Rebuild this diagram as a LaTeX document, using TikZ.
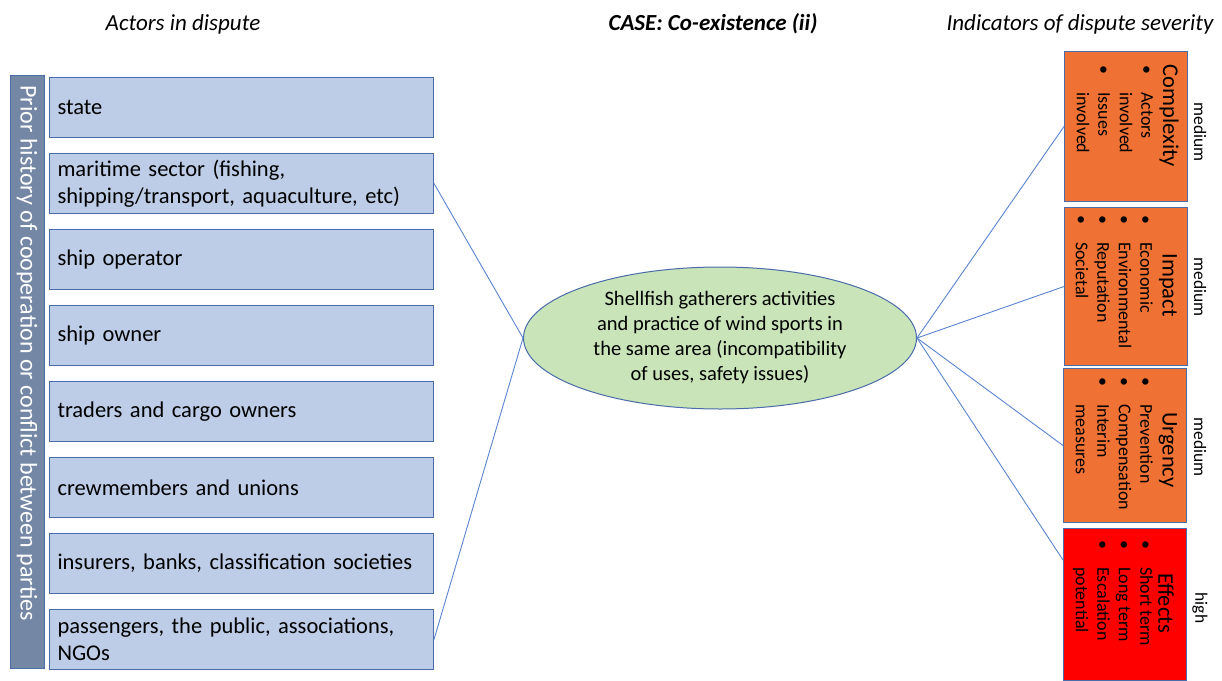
\documentclass[tikz,border=0pt]{standalone}
\usepackage{fontspec}
\setmainfont{Carlito}
\usetikzlibrary{shapes.geometric}
\definecolor{actorfill}{RGB}{189,205,232}
\definecolor{boxline}{RGB}{74,108,170}
\definecolor{barfill}{RGB}{116,136,166}
\definecolor{casefill}{RGB}{200,228,184}
\definecolor{sevorange}{RGB}{240,113,52}
\definecolor{sevred}{RGB}{255,0,0}
\definecolor{linkblue}{RGB}{91,132,208}
\newcommand{\itm}{\makebox[27pt][l]{\textbullet}}
\newcommand{\cont}{\hspace*{27pt}}
\tikzset{
  heading/.style={font=\fontsize{23}{26}\selectfont\itshape},
  actor/.style={draw=boxline, fill=actorfill, line width=1pt, anchor=north west,
    minimum height=60pt, text width=368pt, inner xsep=8pt, align=left,
    font=\fontsize{22.5}{27}\selectfont},
  indicator/.style={draw=boxline, line width=1pt, anchor=north west,
    minimum width=123pt, inner sep=0pt},
  headtext/.style={rotate=-90, font=\fontsize{22.5}{24}\selectfont},
  bullets/.style={rotate=-90, anchor=north west, inner sep=0pt, align=left,
    font=\fontsize{18}{21.5}\selectfont},
  level/.style={rotate=-90, font=\fontsize{17.5}{20}\selectfont},
  link/.style={draw=linkblue, line width=0.9pt}
}
\begin{document}
\begin{tikzpicture}[x=1pt,y=-1pt]
  \useasboundingbox (0,0) rectangle (1222,680);
  % headings
  \node[heading] (hactors) at (183,24) {Actors in dispute};
  \node[heading, font=\fontsize{23}{26}\selectfont\bfseries\itshape] (hcase) at (713,24) {CASE: Co-existence (ii)};
  \node[heading] (hind) at (1080,24) {Indicators of dispute severity};
  % prior history bar
  \node[draw=boxline, fill=barfill, line width=1pt, anchor=north west,
    minimum width=34pt, minimum height=593pt, inner sep=0pt] (history) at (10,75) {};
  \node[rotate=-90, anchor=west, text=white, font=\fontsize{24}{26}\selectfont]
    (historytext) at (27,82) {Prior history of cooperation or conflict between parties};
  % actors
  \node[actor] (state) at (49,77) {state};
  \node[actor] (maritime) at (49,153) {maritime sector (fishing,\\shipping/transport, aquaculture, etc)};
  \node[actor] (operator) at (49,229) {ship operator};
  \node[actor] (owner) at (49,305) {ship owner};
  \node[actor] (traders) at (49,381) {traders and cargo owners};
  \node[actor] (crew) at (49,457) {crewmembers and unions};
  \node[actor] (insurers) at (49,533) {insurers, banks, classification societies};
  \node[actor] (passengers) at (49,609) {passengers, the public, associations,\\NGOs};
  % case
  \node[ellipse, draw=boxline, fill=casefill, line width=1pt, minimum width=393pt,
    minimum height=142pt, inner sep=0pt, align=center, font=\fontsize{20.5}{25}\selectfont]
    (case) at (720,338) {Shellfish gatherers activities\\and practice of wind sports in\\the same area (incompatibility\\of uses, safety issues)};
  % indicators
  \node[indicator, fill=sevorange, minimum height=150pt] (complexity) at (1064,51) {};
  \node[indicator, fill=sevorange, minimum height=158pt] (impact) at (1064,207) {};
  \node[indicator, fill=sevorange, minimum height=154pt] (urgency) at (1063,368) {};
  \node[indicator, fill=sevred, minimum height=152pt] (effects) at (1063,528) {};
  \coordinate (effectsin) at (1063,560);
  \node[headtext] (complexityhead) at (1169,116) {Complexity};
  \node[headtext] (impacthead) at (1168,285) {Impact};
  \node[headtext] (urgencyhead) at (1168,450) {Urgency};
  \node[headtext] (effectshead) at (1166,603) {Effects};
  \node[bullets] (complexitylist) at (1153,65) {\itm Actors\\\cont involved\\\itm Issues\\\cont involved};
  \node[bullets] (impactlist) at (1153,215) {\itm Economic\\\itm Environmental\\\itm Reputation\\\itm Societal};
  \node[bullets] (urgencylist) at (1153,377) {\itm Prevention\\\itm Compensation\\\itm Interim\\\cont measures};
  \node[bullets] (effectslist) at (1153,540) {\itm Short term\\\itm Long term\\\itm Escalation\\\cont potential};
  \node[level] (complexitylevel) at (1200,132) {medium};
  \node[level] (impactlevel) at (1200,287) {medium};
  \node[level] (urgencylevel) at (1200,447) {medium};
  \node[level] (effectslevel) at (1200,608) {high};
  % links
  \begin{scope}[link]
    \draw (maritime.east) -- (case.west);
    \draw (passengers.east) -- (case.west);
    \draw (case.east) -- (complexity.west);
    \draw (case.east) -- (impact.west);
    \draw (case.east) -- (urgency.west);
    \draw (case.east) -- (effectsin);
  \end{scope}
\end{tikzpicture}
\end{document}
